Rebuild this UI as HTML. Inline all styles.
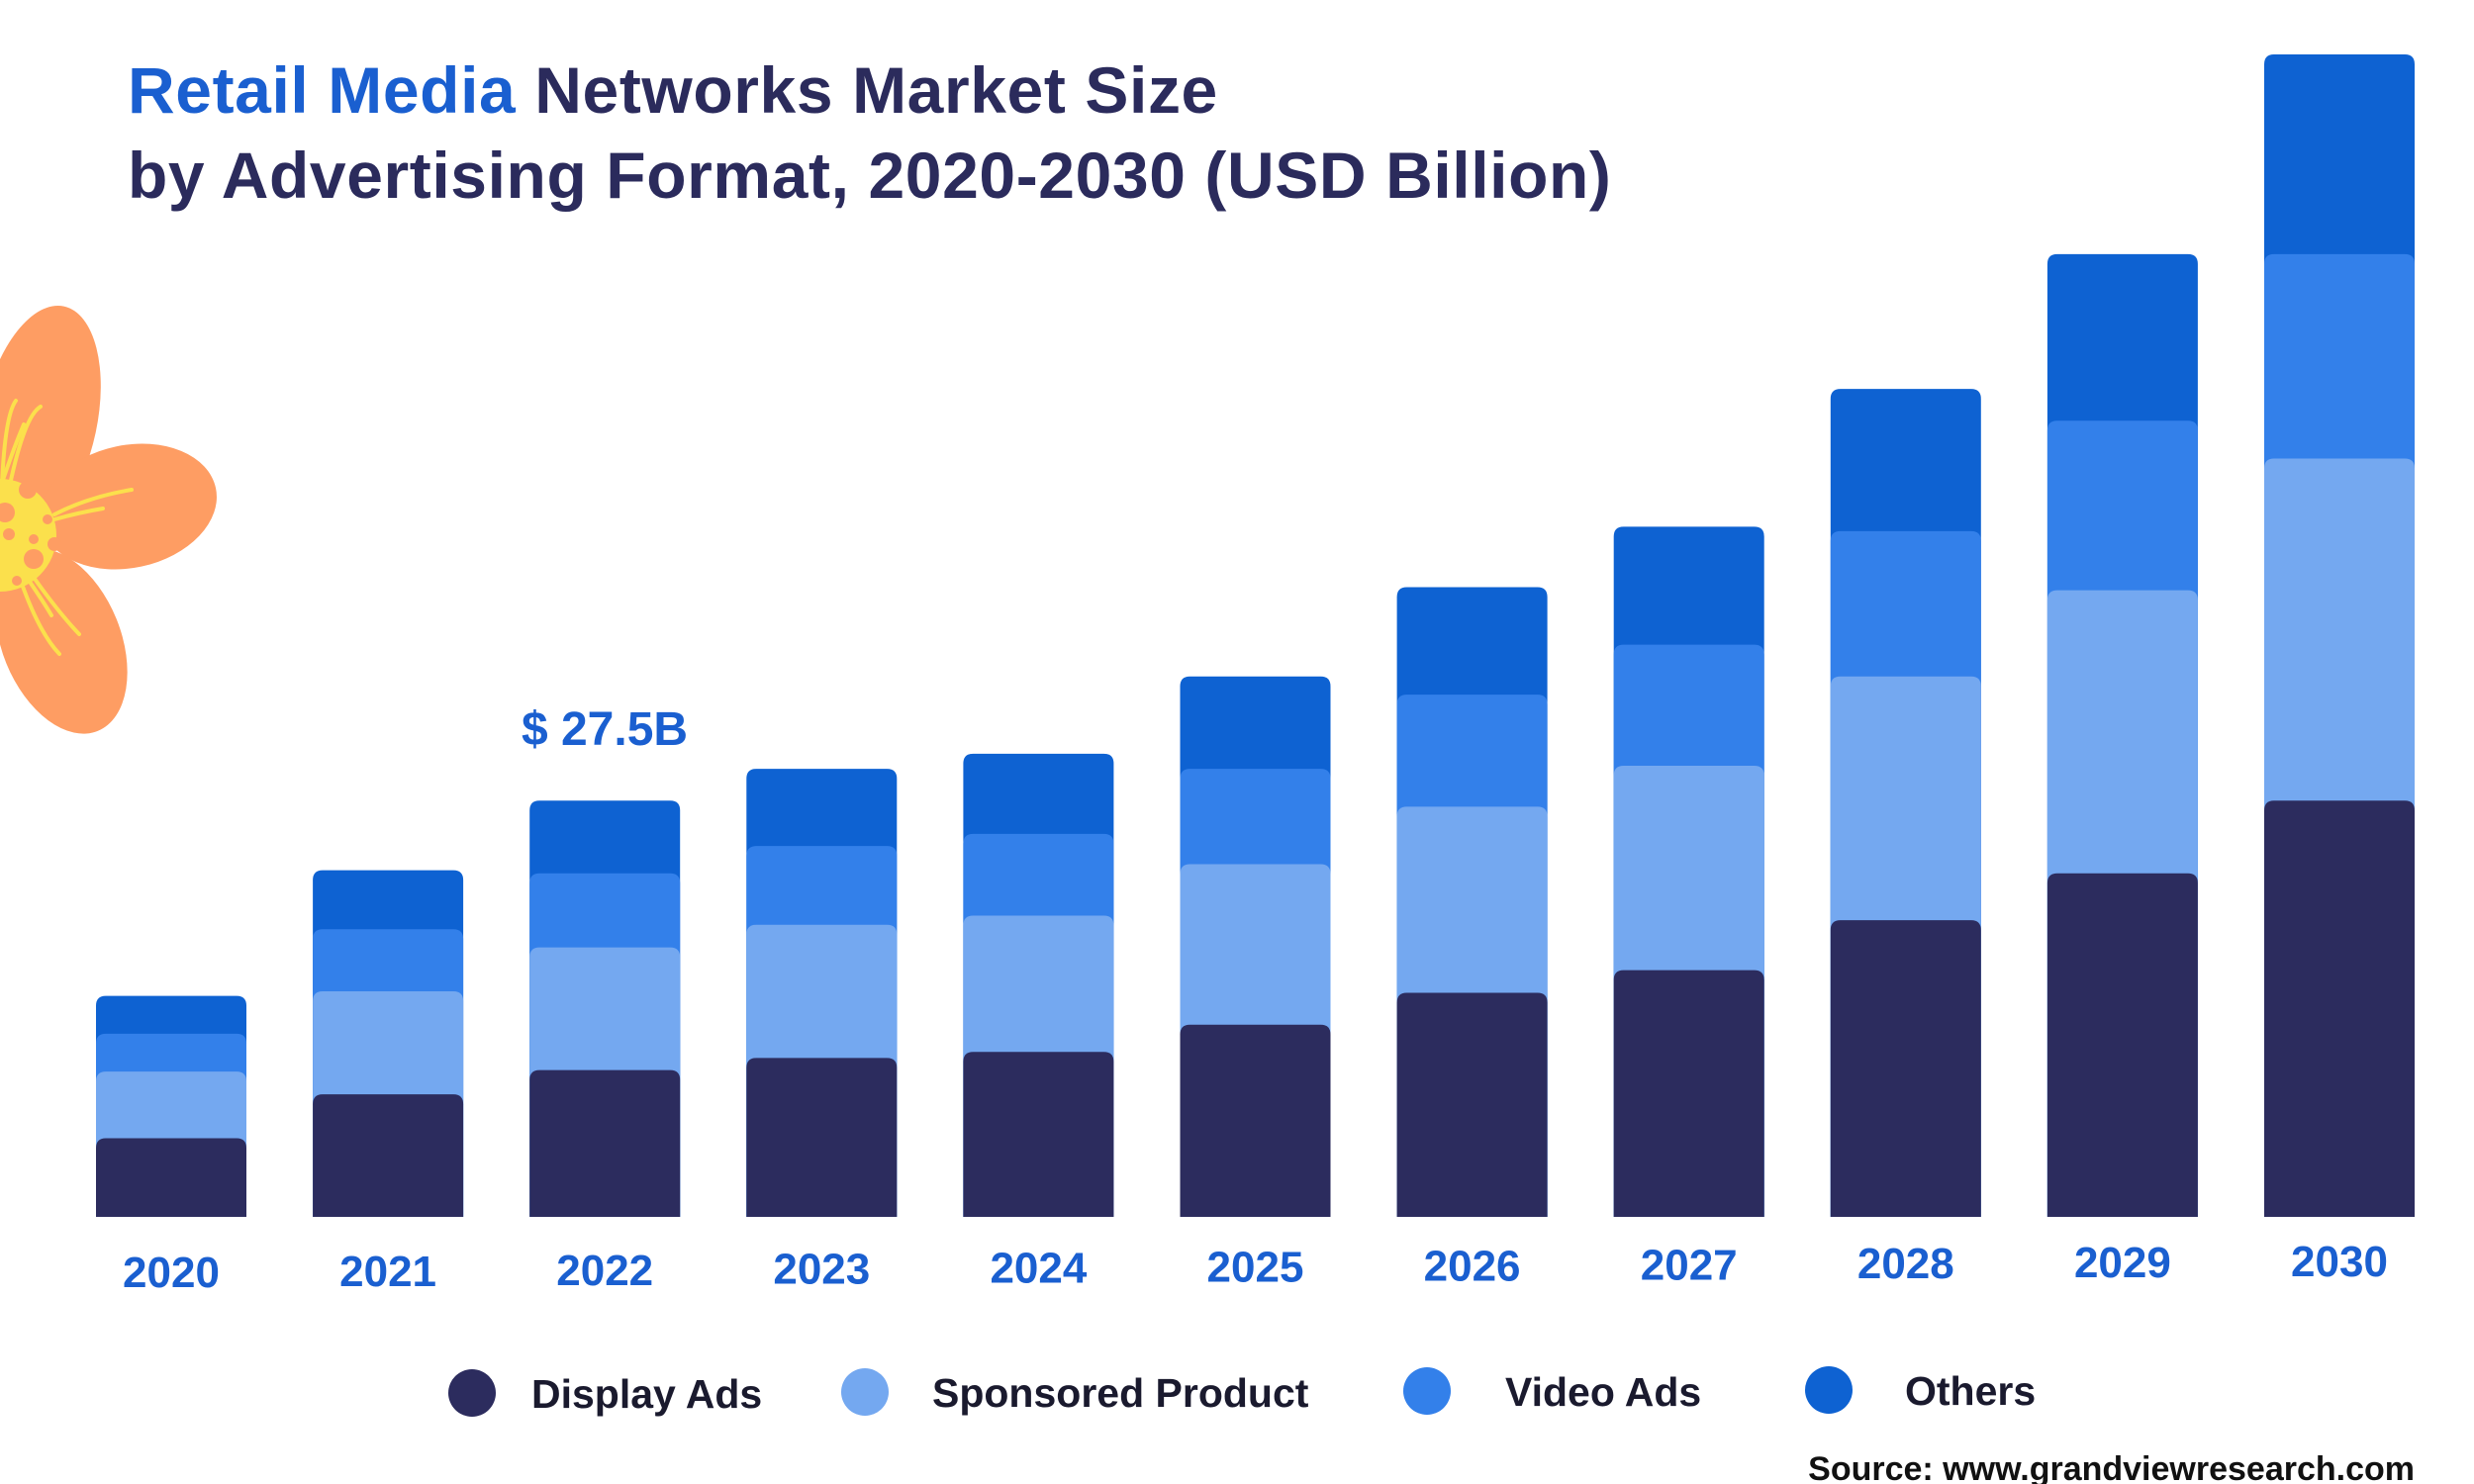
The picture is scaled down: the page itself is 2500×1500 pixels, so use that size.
<!DOCTYPE html>
<html><head><meta charset="utf-8"><style>
body{margin:0;width:2500px;height:1500px;background:#fff;overflow:hidden;font-family:"Liberation Sans",sans-serif}
svg{display:block}
</style></head><body>
<svg id="chart" width="2500" height="1500" viewBox="0 0 2500 1500">
  <g>
    <ellipse cx="40" cy="425" rx="58" ry="118" transform="rotate(12 40 425)" fill="#fe9d63"/>
    <ellipse cx="130" cy="512" rx="90" ry="62" transform="rotate(-12 130 512)" fill="#fe9d63"/>
    <ellipse cx="62" cy="648" rx="60" ry="98" transform="rotate(-22 62 648)" fill="#fe9d63"/>
    <g stroke="#fbe04c" stroke-width="4" fill="none" stroke-linecap="round">
      <path d="M2 490 Q5 420 16 405"/><path d="M10 490 Q25 420 41 411"/><path d="M3 485 Q15 450 24 429"/>
      <path d="M55 520 Q90 502 133 495"/><path d="M55 525 Q80 518 104 514"/>
      <path d="M22 590 Q40 640 60 661"/><path d="M35 585 Q60 620 80 641"/><path d="M30 588 Q45 610 52 622"/>
    </g>
    <circle cx="0" cy="541" r="57" fill="#fbe04c"/>
    <g fill="#fe9d63"><circle cx="5" cy="518" r="10"/><circle cx="9" cy="540" r="6"/><circle cx="34" cy="545" r="5"/><circle cx="34" cy="565" r="10"/><circle cx="48" cy="525" r="5"/><circle cx="28" cy="495" r="9"/><circle cx="17" cy="587" r="5"/><circle cx="55" cy="550" r="7"/></g>
  </g>
  <text x="129" y="114" font-size="66" font-weight="bold" letter-spacing="0.6" fill="#2b2b5c"><tspan fill="#1a5fd0">Retail Media</tspan> Networks Market Size</text>
  <text x="129" y="200" font-size="66" font-weight="bold" letter-spacing="0.6" fill="#2b2b5c">by Advertising Format, 2020-2030 (USD Billion)</text>
  <g id="bars"></g>
  <g id="xlabels"></g>
  <text x="611" y="753" font-size="48" font-weight="bold" fill="#1a5fd0" text-anchor="middle">$ 27.5B</text>
  <g id="legend"></g>
  <text x="2440" y="1496" font-size="34" font-weight="bold" fill="#111" text-anchor="end">Source: www.grandviewresearch.com</text>
</svg>
<script>
const years = ["2020","2021","2022","2023","2024","2025","2026","2027","2028","2029","2030"];
const displayAds = [5.2,8.1,9.7,10.5,10.9,12.7,14.8,16.3,19.6,22.7,27.5];
const sponsoredProduct = [4.4,6.8,8.1,8.8,9.0,10.6,12.3,13.5,16.1,18.7,22.6];
const videoAds = [2.5,4.1,4.9,5.2,5.4,6.3,7.4,8.0,9.6,11.2,13.5];
const others = [2.5,3.9,4.8,5.1,5.3,6.1,7.1,7.8,9.4,11.0,13.2];
const seriesNames = ["Display Ads","Sponsored Product","Video Ads","Others"];

const NS="http://www.w3.org/2000/svg";
const baseY=1230, pxPer=15.3, x0=97, step=219.1, bw=152;
const colors=["#2c2c5e","#74a8f0","#3380ea","#0e62d2"];
const series=[displayAds,sponsoredProduct,videoAds,others];
const keys=["display-ads","sponsored-product","video-ads","others"];
function xScale(i){return x0+i*step;}
function yScale(v){return baseY-v*pxPer;}
const bars=document.getElementById('bars');
years.forEach((y,i)=>{
  const cum=[];let s=0;series.forEach(a=>{s+=a[i];cum.push(s);});
  for(let k=3;k>=0;k--){
    const top=yScale(cum[k]);
    const r=document.createElementNS(NS,'path');
    const x=xScale(i),rr=10;
    r.setAttribute('d',`M${x} ${baseY}V${top+rr}Q${x} ${top} ${x+rr} ${top}H${x+bw-rr}Q${x+bw} ${top} ${x+bw} ${top+rr}V${baseY}Z`);
    r.setAttribute('fill',colors[k]);
    
    
    bars.appendChild(r);
  }
});
const xl=document.getElementById('xlabels');
years.forEach((y,i)=>{
  const t=document.createElementNS(NS,'text');
  t.setAttribute('x',xScale(i)+bw/2);
  t.setAttribute('y',1301-i*1.1);
  t.setAttribute('font-size','44');t.setAttribute('font-weight','bold');
  t.setAttribute('fill','#1a5fd0');t.setAttribute('text-anchor','middle');
  t.textContent=y;
  
  
  xl.appendChild(t);
});
const lg=document.getElementById('legend');
const lcx=[477,874,1442,1848], ltx=[537,942,1521,1925];
seriesNames.forEach((n,k)=>{
  const g=document.createElementNS(NS,'g');
  
  
  const c=document.createElementNS(NS,'circle');
  c.setAttribute('cx',lcx[k]);c.setAttribute('cy',1408-k);c.setAttribute('r',24);c.setAttribute('fill',colors[k]);
  const t=document.createElementNS(NS,'text');
  t.setAttribute('x',ltx[k]);t.setAttribute('y',1423-k);t.setAttribute('font-size','41');t.setAttribute('font-weight','bold');t.setAttribute('fill','#1a1a2e');
  t.textContent=n;
  g.appendChild(c);g.appendChild(t);lg.appendChild(g);
});
</script>
</body></html>
